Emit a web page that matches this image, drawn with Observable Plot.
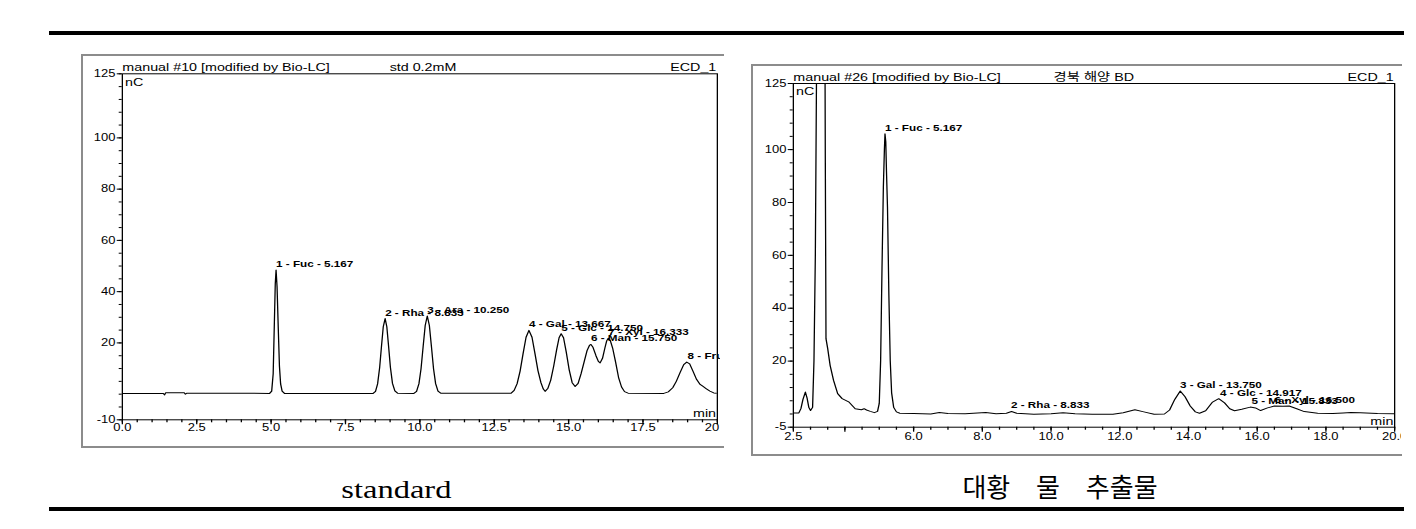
<!DOCTYPE html>
<html>
<head>
<meta charset="utf-8">
<script src="https://cdn.jsdelivr.net/npm/d3@7"></script>
<script src="https://cdn.jsdelivr.net/npm/@observablehq/plot@0.6"></script>
<style>
  html, body { margin: 0; padding: 0; background: #fff; }
  #page { position: relative; width: 1416px; height: 529px; overflow: hidden; background: #fff; }
  .bar { position: absolute; left: 49px; width: 1355px; height: 4px; background: #000; }
  .frame { position: absolute; box-sizing: border-box; border: 2px solid #8c8c8c; border-right: none; }
  .clip { position: absolute; overflow: hidden; }
  .clip svg { position: absolute; left: 0; top: 0; transform-origin: 0 0; }
  .cap { position: absolute; width: 400px; text-align: center; white-space: pre; color: #000; }
  .cap span { display: inline-block; }
</style>
</head>
<body>
<div id="page">
  <div class="bar" style="top:31px"></div>
  <div class="bar" style="top:507px"></div>
  <div class="frame" style="left:81px;top:54px;width:643px;height:394px"></div>
  <div class="frame" style="left:751px;top:64px;width:651px;height:392px"></div>
  <div class="clip" id="leftClip" style="left:82px;top:55px;width:638px;height:392px"></div>
  <div class="clip" id="rightClip" style="left:752px;top:65px;width:649px;height:390px"></div>
  <div class="cap" id="capLeft" style="left:196px;top:477px;font:25px/25px 'Liberation Serif','Times New Roman',serif"><span style="transform:scaleX(1.3)"></span></div>
  <div class="cap" id="capRight" style="left:860px;top:473px;font:26px/26px 'Noto Sans CJK KR',sans-serif;word-spacing:20px"><span></span></div>
</div>
<script>
// ---------- captions ----------
const captions = ["standard", "대황 물 추출물"];

// ---------- left chromatogram (standard) ----------
const leftRun = "manual #10 [modified by Bio-LC]";
const leftSample = "std 0.2mM";
const leftChannel = "ECD_1";
const leftTime = [
  0, 1.38, 1.42, 1.46, 2.08, 2.12, 2.17, 4.95, 5.02, 5.07,
  5.11, 5.14, 5.167, 5.2, 5.24, 5.28, 5.32, 5.37, 5.45, 8.43,
  8.51, 8.58, 8.65, 8.71, 8.77, 8.833, 8.89, 8.95, 9.01, 9.08,
  9.16, 9.25, 9.8, 9.89, 9.97, 10.04, 10.11, 10.18, 10.25, 10.32,
  10.39, 10.46, 10.53, 10.61, 10.7, 13.07, 13.17, 13.27, 13.37, 13.47,
  13.57, 13.667, 13.77, 13.87, 13.97, 14.07, 14.15, 14.21, 14.3, 14.4,
  14.5, 14.6, 14.68, 14.75, 14.83, 14.92, 15.02, 15.12, 15.22, 15.32,
  15.42, 15.52, 15.62, 15.7, 15.75, 15.82, 15.92, 16.0, 16.06, 16.14,
  16.22, 16.28, 16.333, 16.4, 16.48, 16.58, 16.68, 16.78, 16.88, 17.0,
  18.2, 18.35, 18.5, 18.62, 18.75, 18.87, 18.97, 19.07, 19.18, 19.3,
  19.42, 19.52, 19.62, 19.75, 19.88, 20.0
];
const leftSignal = [
  0.3, 0.3, -0.3, 0.6, 0.6, 0.0, 0.4, 0.3, 1.2, 8,
  28, 43, 48.4, 42, 26, 11, 4, 1.2, 0.3, 0.3,
  1.1, 4, 10.5, 18.6, 26.3, 29.5, 26.3, 18.6, 10.5, 4.2,
  1.3, 0.4, 0.3, 1.1, 4.1, 9.9, 18.5, 26.8, 30.5, 26.8,
  18.5, 9.9, 4.1, 1.2, 0.4, 0.4, 1.5, 4.1, 9, 15.8,
  22.2, 24.9, 22.2, 15.8, 9.2, 4.5, 2.0, 1.1, 2.2, 5.5,
  11, 17.5, 22, 23.6, 22, 16.5, 9.5, 4.5, 3.0, 4.2,
  8, 12.5, 17, 19, 19.4, 18.3, 15, 12.8, 12.2, 14,
  18, 20.8, 21.8, 21, 18, 12.5, 6.5, 2.8, 1, 0.4,
  0.3, 0.9, 2.5, 5, 8.5, 11.5, 12.5, 11.8, 9, 5.8,
  3.8, 3, 2.2, 1.2, 0.5, 0.3
];
const leftPeakNo = [1, 2, 3, 4, 5, 6, 7, 8];
const leftPeakName = ["Fuc", "Rha", "Ara", "Gal", "Glc", "Man", "Xyl", "Fru"];
const leftPeakTime = [5.167, 8.833, 10.25, 13.667, 14.75, 15.75, 16.333, 19.0];
const leftXTicks = [0, 2.5, 5, 7.5, 10, 12.5, 15, 17.5, 20];
const leftXTickLabels = ["0.0", "2.5", "5.0", "7.5", "10.0", "12.5", "15.0", "17.5", "20.0"];
const leftYTicks = [125, 100, 80, 60, 40, 20, -10];
const leftYTickLabels = ["125", "100", "80", "60", "40", "20", "-10"];

// ---------- right chromatogram (extract) ----------
const rightRun = "manual #26 [modified by Bio-LC]";
const rightSample = "경북 해양 BD";
const rightChannel = "ECD_1";
const rightTime = [
  2.5, 2.66, 2.72, 2.78, 2.85, 2.9, 2.95, 3.0, 3.06, 3.1,
  3.14, 3.16, 3.18, 3.3, 3.42, 3.43, 3.45, 3.5, 3.57, 3.67,
  3.79, 3.92, 4.11, 4.3, 4.48, 4.56, 4.63, 4.74, 4.86, 4.95,
  5.0, 5.04, 5.08, 5.12, 5.15, 5.167, 5.19, 5.21, 5.24, 5.28,
  5.32, 5.36, 5.42, 5.5, 5.6, 6.0, 6.5, 6.75, 7.0, 7.5,
  8.1, 8.4, 8.7, 8.85, 9.0, 9.5, 10.0, 10.35, 10.7, 11.2,
  11.8, 12.1, 12.44, 12.7, 13.0, 13.3, 13.45, 13.6, 13.76, 13.9,
  14.05, 14.2, 14.32, 14.5, 14.7, 14.88, 15.05, 15.2, 15.34, 15.55,
  15.8, 15.95, 16.1, 16.3, 16.5, 16.75, 16.93, 17.15, 17.37, 17.76,
  18.2, 18.5, 18.73, 19.0, 19.5, 20.0
];
const rightSignal = [
  0.4, 0.4, 2, 5.5, 8.3, 6, 2.5, 1.3, 2.5, 20,
  60, 100, 140, 300, 140, 97, 28.5, 24.7, 18.4, 12.7,
  7.7, 5.8, 4.6, 2.0, 1.6, 2.0, 1.5, 1.0, 0.5, 1,
  4, 20, 55, 86, 100, 106, 103, 92, 78, 45,
  20, 8, 2.5, 0.8, 0.3, 0.2, 0.0, 0.6, 0.2, 0.1,
  0.6, 0.1, 0.3, 0.95, 0.3, -0.1, 0.1, 0.5, 0.1, -0.1,
  -0.1, 0.5, 1.6, 0.8, -0.1, 0.0, 1.5, 5.5, 8.7, 6.5,
  3, 0.8, 0.3, 1.2, 4.5, 5.8, 4.2, 2.0, 1.2, 1.8,
  2.6, 2.3, 1.3, 2.3, 3.0, 2.9, 3.0, 2.0, 0.9, 0.3,
  0.2, 0.4, 0.6, 0.5, 0.2, 0.1
];
const rightPeakNo = [1, 2, 3, 4, 5, 6];
const rightPeakName = ["Fuc", "Rha", "Gal", "Glc", "Man", "Xyl"];
const rightPeakTime = [5.167, 8.833, 13.75, 14.917, 15.833, 16.5];
const rightXTicks = [2.5, 4, 6, 8, 10, 12, 14, 16, 18, 20];
const rightXTickLabels = ["2.5", "", "6.0", "8.0", "10.0", "12.0", "14.0", "16.0", "18.0", "20.0"];
const rightYTicks = [125, 100, 80, 60, 40, 20, -5];
const rightYTickLabels = ["125", "100", "80", "60", "40", "20", "-5"];

const unitY = "nC";
const unitX = "min";

// ---------- drawing ----------
const S = 1.3; // horizontal stretch of the pasted chromatogram pictures

function makePanel(cfg) {
  const W = 520;
  const H = cfg.bottom - cfg.top;
  const ml = (cfg.plotL - cfg.left) / S;
  const mr = W - (cfg.plotR - cfg.left) / S;
  const mt = cfg.plotT - cfg.top;
  const mb = H - (cfg.plotB - cfg.top);
  const trace = cfg.times.map((t, i) => ({t, v: cfg.values[i]}));
  const peaks = cfg.peakNo.map((n, i) => {
    const t = cfg.peakTime[i];
    const near = d3.least(trace, d => Math.abs(d.t - t));
    return {t, v: near.v, label: `${n} - ${cfg.peakName[i]} - ${t.toFixed(3)}`};
  });
  const xLab = new Map(cfg.xTicks.map((d, i) => [d, cfg.xTickLabels[i]]));
  const yLab = new Map(cfg.yTicks.map((d, i) => [d, cfg.yTickLabels[i]]));
  const xMinor = d3.range(cfg.xDomain[0], cfg.xDomain[1] + 0.001, 0.5);
  const yMinor = d3.range(cfg.yDomain[0], cfg.yDomain[1] + 0.001, 5);
  const head = {lineAnchor: "bottom", dy: -2.5, fontSize: 11, text: d => d, fill: "#000"};
  const svg = Plot.plot({
    width: W, height: H,
    marginLeft: ml, marginRight: mr, marginTop: mt, marginBottom: mb,
    x: {domain: cfg.xDomain},
    y: {domain: cfg.yDomain},
    style: {fontFamily: "'Liberation Sans', Arial, 'Noto Sans CJK KR', sans-serif", fontSize: "10px", color: "#000", background: "transparent", overflow: "visible"},
    marks: [
      Plot.axisX(xMinor, {tickSize: 3, tickFormat: () => "", label: null}),
      Plot.axisX(cfg.xTicks, {tickSize: 5, tickPadding: cfg.xPad, tickFormat: d => xLab.get(d), label: null, fontSize: 10}),
      Plot.axisY(yMinor, {tickSize: 3 / S, tickFormat: () => "", label: null}),
      Plot.axisY(cfg.yTicks, {tickSize: 5 / S, tickPadding: 1.5, tickFormat: d => yLab.get(d), label: null, fontSize: 10}),
      Plot.frame({stroke: "#000", strokeWidth: 1}),
      Plot.line(trace, {x: "t", y: "v", stroke: "#000", strokeWidth: 1, clip: true}),
      Plot.text(peaks, {x: "t", y: "v", text: "label", textAnchor: "start", lineAnchor: "bottom", dy: -3, fontSize: 9, fontWeight: "bold", fill: "#000"}),
      Plot.text([cfg.run], {...head, frameAnchor: "top-left"}),
      Plot.text([cfg.sample], {...head, frameAnchor: "top-left", dx: cfg.sampleDx}),
      Plot.text([cfg.channel], {...head, frameAnchor: "top-right", textAnchor: "end", dx: -0.8}),
      Plot.text([unitY], {frameAnchor: "top-left", textAnchor: "start", lineAnchor: "top", dx: 2, dy: 4, fontSize: 11, text: d => d, fill: "#000"}),
      Plot.text([unitX], {frameAnchor: "bottom-right", textAnchor: "end", lineAnchor: "bottom", dx: -1, dy: cfg.minDy, fontSize: 11, text: d => d, fill: "#000"})
    ]
  });
  svg.style.transform = `scaleX(${S})`;
  document.getElementById(cfg.host).appendChild(svg);
}

makePanel({
  host: "leftClip", left: 82, top: 55, bottom: 447,
  plotL: 121.7, plotR: 716.7, plotT: 73.3, plotB: 419.3,
  xDomain: [0, 20], yDomain: [-10, 125],
  times: leftTime, values: leftSignal,
  peakNo: leftPeakNo, peakName: leftPeakName, peakTime: leftPeakTime,
  xTicks: leftXTicks, xTickLabels: leftXTickLabels,
  yTicks: leftYTicks, yTickLabels: leftYTickLabels,
  run: leftRun, sample: leftSample, channel: leftChannel,
  sampleDx: 205.6, minDy: -3, xPad: -0.5
});

makePanel({
  host: "rightClip", left: 752, top: 65, bottom: 455,
  plotL: 792.7, plotR: 1394, plotT: 83, plotB: 426.7,
  xDomain: [2.5, 20], yDomain: [-5, 125],
  times: rightTime, values: rightSignal,
  peakNo: rightPeakNo, peakName: rightPeakName, peakTime: rightPeakTime,
  xTicks: rightXTicks, xTickLabels: rightXTickLabels,
  yTicks: rightYTicks, yTickLabels: rightYTickLabels,
  run: rightRun, sample: rightSample, channel: rightChannel,
  sampleDx: 200.2, minDy: -2, xPad: 0.5
});

document.querySelector("#capLeft span").textContent = captions[0];
document.querySelector("#capRight span").textContent = captions[1];
</script>
</body>
</html>
